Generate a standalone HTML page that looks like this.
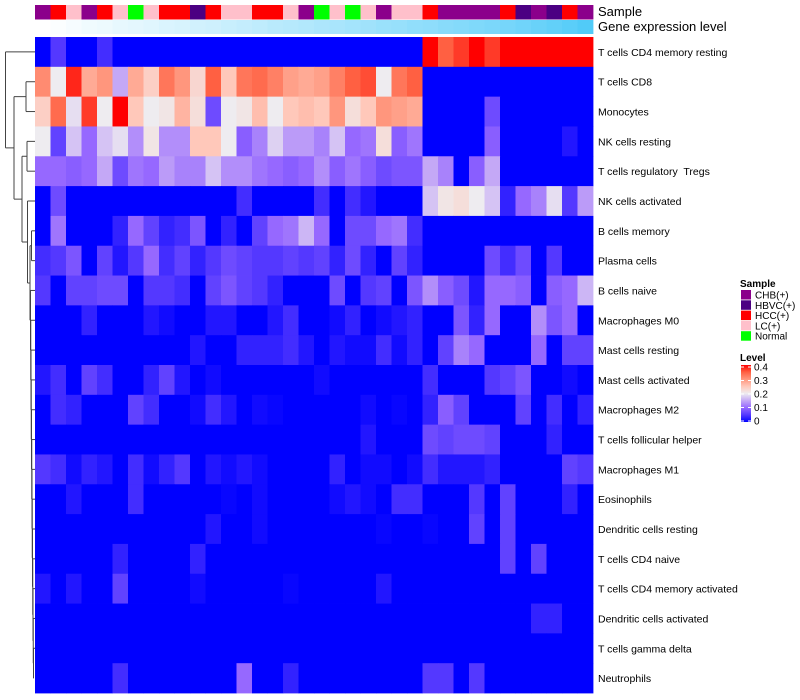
<!DOCTYPE html>
<html><head><meta charset="utf-8"><style>
html,body{margin:0;padding:0;background:#fff;}
svg{display:block;font-family:"Liberation Sans",sans-serif;}
text{white-space:pre;}
</style></head><body>
<svg id="chart" width="800" height="700" viewBox="0 0 800 700">
<g id="dendro" stroke="#444" stroke-width="1" fill="none"></g>
<g id="annot"></g>
<g id="cells"></g>
<g id="labels" font-size="10.5" fill="#000"></g>
<text x="598" y="16" font-size="13">Sample</text>
<text x="598" y="31" font-size="13">Gene expression level</text>
<g id="legend" font-size="10"></g>
</svg>
<script>
const rowLabels = ["T cells CD4 memory resting","T cells CD8","Monocytes","NK cells resting","T cells regulatory  Tregs","NK cells activated","B cells memory","Plasma cells","B cells naive","Macrophages M0","Mast cells resting","Mast cells activated","Macrophages M2","T cells follicular helper","Macrophages M1","Eosinophils","Dendritic cells resting","T cells CD4 naive","T cells CD4 memory activated","Dendritic cells activated","T cells gamma delta","Neutrophils"];
const sampleGroups = ["CHB(+)","HCC(+)","LC(+)","CHB(+)","HCC(+)","LC(+)","Normal","LC(+)","HCC(+)","HCC(+)","HBVC(+)","HCC(+)","LC(+)","LC(+)","HCC(+)","HCC(+)","LC(+)","CHB(+)","Normal","LC(+)","Normal","LC(+)","CHB(+)","LC(+)","LC(+)","HCC(+)","CHB(+)","CHB(+)","CHB(+)","CHB(+)","HCC(+)","HBVC(+)","CHB(+)","HBVC(+)","HCC(+)","CHB(+)"];
const expressionLevel = [0,0.02,0.05,0.08,0.1,0.13,0.15,0.17,0.2,0.22,0.25,0.27,0.3,0.32,0.35,0.38,0.4,0.42,0.45,0.47,0.5,0.52,0.55,0.57,0.6,0.62,0.65,0.67,0.7,0.72,0.75,0.78,0.82,0.86,0.9,0.95];
const groupNames = ["CHB(+)","HBVC(+)","HCC(+)","LC(+)","Normal"];
const groupColors = ["#8B008B","#4B0082","#FF0000","#FFC0CB","#00FF00"];
const levelTicks = [0,0.1,0.2,0.3,0.4];
const cellValues = [
[0,.05,0,0,.04,0,0,0,0,0,0,0,0,0,0,0,0,0,0,0,0,0,0,0,0,.4,.35,.37,.4,.37,.4,.4,.4,.4,.4,.4],
[.31,.2,.38,.28,.3,.15,.28,.24,.33,.3,.23,.35,.25,.33,.34,.32,.29,.28,.29,.32,.35,.36,.2,.33,.35,0,0,0,0,0,0,0,0,0,0,0],
[.24,.34,.19,.37,.2,.4,.25,.2,.21,.27,.22,.07,.2,.21,.26,.2,.25,.26,.25,.3,.22,.25,.3,.29,.28,0,0,0,0,.07,0,0,0,0,0,0],
[.2,.06,.17,.1,.17,.19,.13,.21,.13,.13,.25,.25,.2,.09,.12,.18,.14,.14,.12,.17,.1,.11,.22,.09,.11,0,0,0,0,.09,0,0,0,0,.02,0],
[.1,.1,.09,.1,.15,.07,.11,.1,.14,.12,.12,.17,.13,.13,.11,.1,.09,.1,.13,.09,.11,.09,.07,.08,.08,.15,.12,0,.09,.15,0,0,0,0,0,0],
[0,.07,0,0,0,0,0,0,0,0,0,0,0,.04,0,0,0,0,.04,0,.04,.02,0,0,0,.17,.21,.22,.2,.17,.03,.1,.12,.19,.05,.14],
[0,.11,0,0,0,.03,.1,.06,.03,.04,.08,0,.03,0,.06,.1,.11,.16,.1,0,.07,.07,.1,.11,.04,0,0,0,0,0,0,0,0,0,0,0],
[.04,.05,.08,0,.06,.02,.05,.1,.04,.06,.03,.05,.07,.06,.05,.05,.06,.05,.06,.03,.07,.03,0,.06,.03,0,0,0,0,.07,.04,.07,0,.05,0,0],
[.05,0,.06,.06,.07,.07,0,.05,.05,.04,0,.06,.08,.06,.05,.03,0,0,0,.07,0,.05,.06,0,.08,.13,.09,.07,.02,.1,.1,.09,0,.09,.1,.16],
[0,0,0,.03,0,0,0,.02,.01,0,0,.02,.02,0,0,.02,.04,0,0,.01,.03,0,.01,.02,.03,0,0,.08,.03,.1,0,0,.13,.08,.1,0],
[0,0,0,0,0,0,0,0,0,0,.02,0,0,.03,.03,.03,.04,.02,0,.02,.01,.01,.04,.01,.03,0,.06,.12,.1,0,0,0,.1,0,.06,.06],
[.02,.04,0,.06,.04,0,0,.03,.06,.02,0,.01,0,0,0,0,0,0,.01,0,0,0,0,0,0,.04,0,0,0,.05,.06,.08,0,0,.01,0],
[0,.04,.03,0,0,0,.06,.04,0,0,.01,.04,.02,0,.01,.005,0,0,0,0,0,.01,0,.005,0,.03,.09,.06,0,0,0,.06,0,.04,0,.03],
[0,0,0,0,0,0,0,0,0,0,0,0,0,0,0,0,0,0,0,0,0,.02,0,0,0,.07,.06,.07,.07,.06,0,0,0,.03,0,0],
[.05,.04,.01,.03,.02,0,.04,.01,.03,.05,0,.02,.01,.02,.01,0,0,0,0,.03,0,.01,.01,0,.01,.04,.02,.02,.02,.03,0,0,0,0,.06,.05],
[0,0,.02,0,0,0,.04,0,0,0,0,0,.005,0,.01,0,0,0,0,.01,.02,.01,0,.04,.04,0,0,0,.05,0,.06,0,0,0,.03,0],
[0,0,0,0,0,0,0,0,0,0,0,.02,0,0,.01,0,0,0,0,0,0,0,.005,0,0,.005,0,0,.06,0,.06,0,0,0,0,0],
[0,0,0,0,0,.03,0,0,0,0,.03,0,0,0,0,0,0,0,0,0,0,0,0,0,0,0,0,0,0,0,.06,0,.06,0,0,0],
[.02,0,.02,0,0,.06,0,0,0,0,.01,0,0,0,0,0,.005,0,0,0,0,0,.02,0,0,0,0,0,0,0,0,0,0,0,0,0],
[0,0,0,0,0,0,0,0,0,0,0,0,0,0,0,0,0,0,0,0,0,0,0,0,0,0,0,0,0,0,0,0,.03,.03,0,0],
[0,0,0,0,0,0,0,0,0,0,0,0,0,0,0,0,0,0,0,0,0,0,0,0,0,0,0,0,0,0,0,0,0,0,0,0],
[0,0,0,0,0,.04,0,0,0,0,0,0,0,.1,0,0,.03,0,0,0,0,0,0,0,0,.05,.05,0,.05,0,0,0,0,0,0,0]
];

const NS = "http://www.w3.org/2000/svg";
const X0 = 35, X1 = 593, Y0 = 37, Y1 = 693;
const nCol = sampleGroups.length, nRow = rowLabels.length;
const cw = (X1 - X0) / nCol, rh = (Y1 - Y0) / nRow;
const xPos = c => X0 + c * cw;
const yPos = r => Y0 + r * rh;
const stops = [[0,[0,0,255]],[0.05,[84,56,255]],[0.1,[150,104,255]],[0.15,[196,168,246]],[0.2,[238,236,240]],[0.25,[255,200,186]],[0.3,[255,150,125]],[0.35,[255,96,66]],[0.4,[255,0,0]]];
function colorFor(v){
  v = Math.max(0, Math.min(0.4, v));
  for (let i = 1; i < stops.length; i++) {
    if (v <= stops[i][0]) {
      const a = stops[i-1], b = stops[i], t = (v - a[0]) / (b[0] - a[0]);
      const c = a[1].map((x, k) => Math.round(x + (b[1][k] - x) * t));
      return "rgb(" + c.join(",") + ")";
    }
  }
  return "rgb(255,0,0)";
}
function mk(tag, attrs, parent){
  const e = document.createElementNS(NS, tag);
  for (const k in attrs) e.setAttribute(k, attrs[k]);
  parent.appendChild(e);
  return e;
}
const cells = document.getElementById("cells");
for (let r = 0; r < nRow; r++) {
  for (let c = 0; c < nCol; c++) {
    const el = mk("rect", {x: xPos(c), y: yPos(r), width: cw + 0.4, height: rh + 0.4, fill: colorFor(cellValues[r][c])}, cells);
    
    
  }
}
const annot = document.getElementById("annot");
for (let c = 0; c < nCol; c++) {
  const g = groupNames.indexOf(sampleGroups[c]);
  const s = mk("rect", {x: xPos(c), y: 5, width: cw + 0.4, height: 14.5, fill: groupColors[g]}, annot);
  
  
  const t = expressionLevel[c];
  const col = "rgb(" + Math.round(255 + (72 - 255) * t) + "," + Math.round(255 + (200 - 255) * t) + "," + Math.round(255 + (248 - 255) * t) + ")";
  const e = mk("rect", {x: xPos(c), y: 20, width: cw + 0.4, height: 14, fill: col}, annot);
  
  
}
const labels = document.getElementById("labels");
for (let r = 0; r < nRow; r++) {
  const t = mk("text", {x: 598, y: yPos(r) + rh / 2 + 4}, labels);
  t.textContent = rowLabels[r];
  
  
}
const d = document.getElementById("dendro");
const yc = r => yPos(r) + rh / 2;
function seg(x1, y1, x2, y2){ mk("line", {x1: x1, y1: y1, x2: x2, y2: y2}, d); }
function node(x, ya, yb, xa, xb){ seg(x, ya, x, yb); seg(x, ya, xa, ya); seg(x, yb, xb, yb); }
let lowX = 34, lowY = yc(21);
for (let r = 20; r >= 8; r--) {
  const nx = 30.5 + (r - 8) * 0.25;
  node(nx, yc(r), lowY, 35, lowX);
  lowY = (yc(r) + lowY) / 2; lowX = nx;
}
node(31.5, yc(6), yc(7), 35, 35);
const p67 = (yc(6) + yc(7)) / 2;
node(30, p67, lowY, 31.5, lowX);
const pD = (p67 + lowY) / 2;
node(27.5, yc(5), pD, 35, 30);
const pE = (yc(5) + pD) / 2;
node(27, yc(3), yc(4), 35, 35);
const p34 = (yc(3) + yc(4)) / 2;
node(22, p34, pE, 27, 27.5);
const pF = (p34 + pE) / 2;
node(26, yc(1), yc(2), 35, 35);
const p12 = (yc(1) + yc(2)) / 2;
node(14, p12, pF, 26, 22);
const pG = (p12 + pF) / 2;
node(5.5, yc(0), pG, 35, 14);
const lg = document.getElementById("legend");
const st = mk("text", {x: 740, y: 287, "font-weight": "bold"}, lg); st.textContent = "Sample";


for (let i = 0; i < groupNames.length; i++) {
  const y = 290 + i * 10.3;
  const b = mk("rect", {x: 741, y: y, width: 10, height: 9.5, fill: groupColors[i]}, lg);
  
  
  const t = mk("text", {x: 755, y: y + 8.5}, lg); t.textContent = groupNames[i];
  
  
}
const lt = mk("text", {x: 740, y: 361, "font-weight": "bold"}, lg); lt.textContent = "Level";


const defs = mk("defs", {}, lg);
const grad = mk("linearGradient", {id: "lvl", x1: 0, y1: 1, x2: 0, y2: 0}, defs);
stops.forEach(s => mk("stop", {offset: s[0] / 0.4, "stop-color": colorFor(s[0])}, grad));
const cb = mk("rect", {x: 741, y: 365, width: 10, height: 57, fill: "url(#lvl)"}, lg);


levelTicks.forEach(v => {
  const y = 421 - (v / 0.4) * 54;
  mk("line", {x1: 741, y1: y, x2: 744, y2: y, stroke: "#fff"}, lg);
  mk("line", {x1: 748, y1: y, x2: 751, y2: y, stroke: "#fff"}, lg);
  const t = mk("text", {x: 754, y: y + 3.5}, lg); t.textContent = String(v);
  
  
});
</script>
</body></html>
